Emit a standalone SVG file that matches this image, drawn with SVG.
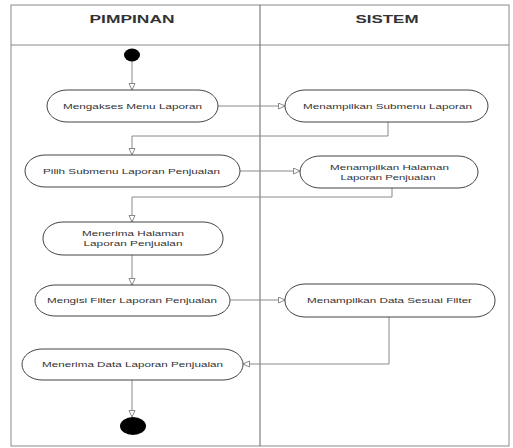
<svg xmlns="http://www.w3.org/2000/svg" width="513" height="448" viewBox="0 0 513 448">
<style>
.lane{fill:none;stroke:#8a8a8a;stroke-width:1}
.div{stroke:#666;stroke-width:1}
.hdr{font-family:"Liberation Sans",Arial,sans-serif;font-weight:bold;font-size:10.5px;fill:#333;text-anchor:middle}
.act rect{fill:#fff;stroke:#444;stroke-width:1}
.act text{font-family:"Liberation Sans",Arial,sans-serif;font-size:7.5px;fill:#333;text-anchor:middle}
.con path{fill:none;stroke:#8a8a8a;stroke-width:1;marker-end:url(#arr)}
</style>
<defs>
<marker id="arr" markerUnits="userSpaceOnUse" markerWidth="10" markerHeight="10" refX="7" refY="3.5" orient="auto">
<path d="M0.5,0.5 L7,3.5 L0.5,6.5 z" fill="#fff" stroke="#8a8a8a" stroke-width="1"/>
</marker>
</defs>
<rect fill="#fff" x="0" y="0" width="513" height="448"/>
<g id="lanes">
<rect class="lane" x="11" y="5" width="498" height="441"/>
<line class="lane" x1="11" y1="45" x2="509" y2="45"/>
<line class="div" x1="260" y1="5" x2="260" y2="446"/>
<text class="hdr" x="132" y="22.5" textLength="85" lengthAdjust="spacingAndGlyphs">PIMPINAN</text>
<text class="hdr" x="387" y="22.5" textLength="63" lengthAdjust="spacingAndGlyphs">SISTEM</text>
</g>
<g class="con" id="connectors">
<path d="M132,61 V90"/>
<path d="M218,106 H285"/>
<path d="M388,122 V136 H132 V155"/>
<path d="M240,171 H300"/>
<path d="M392,188 V197 H132 V222"/>
<path d="M132,255 V285"/>
<path d="M230,300 H285"/>
<path d="M389,317 V364 H243"/>
<path d="M132,380 V417"/>
</g>
<g id="start"><ellipse cx="132" cy="55" rx="8" ry="6.5" fill="#000"/></g>
<g class="act" id="n1"><rect x="47" y="90" width="171" height="32" rx="20" ry="16"/><text x="132.5" y="108.5" textLength="139" lengthAdjust="spacingAndGlyphs">Mengakses Menu Laporan</text></g>
<g class="act" id="n2"><rect x="285" y="90" width="203" height="32" rx="20" ry="16"/><text x="387.5" y="108.5" textLength="169" lengthAdjust="spacingAndGlyphs">Menampilkan Submenu Laporan</text></g>
<g class="act" id="n3"><rect x="25" y="155" width="215" height="32" rx="20" ry="16"/><text x="131.5" y="173.5" textLength="177" lengthAdjust="spacingAndGlyphs">Pilih Submenu Laporan Penjualan</text></g>
<g class="act" id="n4"><rect x="300" y="156" width="178" height="32" rx="20" ry="16"/><text x="389.5" y="169.5" textLength="119" lengthAdjust="spacingAndGlyphs">Menampilkan Halaman</text><text x="388" y="179.5" textLength="95" lengthAdjust="spacingAndGlyphs">Laporan Penjualan</text></g>
<g class="act" id="n5"><rect x="43" y="222" width="180" height="33" rx="20" ry="16"/><text x="133" y="236" textLength="102" lengthAdjust="spacingAndGlyphs">Menerima Halaman</text><text x="133" y="246" textLength="99" lengthAdjust="spacingAndGlyphs">Laporan Penjualan</text></g>
<g class="act" id="n6"><rect x="35" y="285" width="195" height="31" rx="20" ry="15.5"/><text x="132" y="302.5" textLength="170" lengthAdjust="spacingAndGlyphs">Mengisi Filter Laporan Penjualan</text></g>
<g class="act" id="n7"><rect x="285" y="284" width="210" height="33" rx="20" ry="16"/><text x="389.5" y="302.5" textLength="165" lengthAdjust="spacingAndGlyphs">Menampilkan Data Sesuai Filter</text></g>
<g class="act" id="n8"><rect x="22" y="349" width="221" height="31" rx="20" ry="15.5"/><text x="132.5" y="367" textLength="181" lengthAdjust="spacingAndGlyphs">Menerima Data Laporan Penjualan</text></g>
<g id="end"><ellipse cx="133" cy="426" rx="13" ry="9" fill="#000"/></g>
</svg>
